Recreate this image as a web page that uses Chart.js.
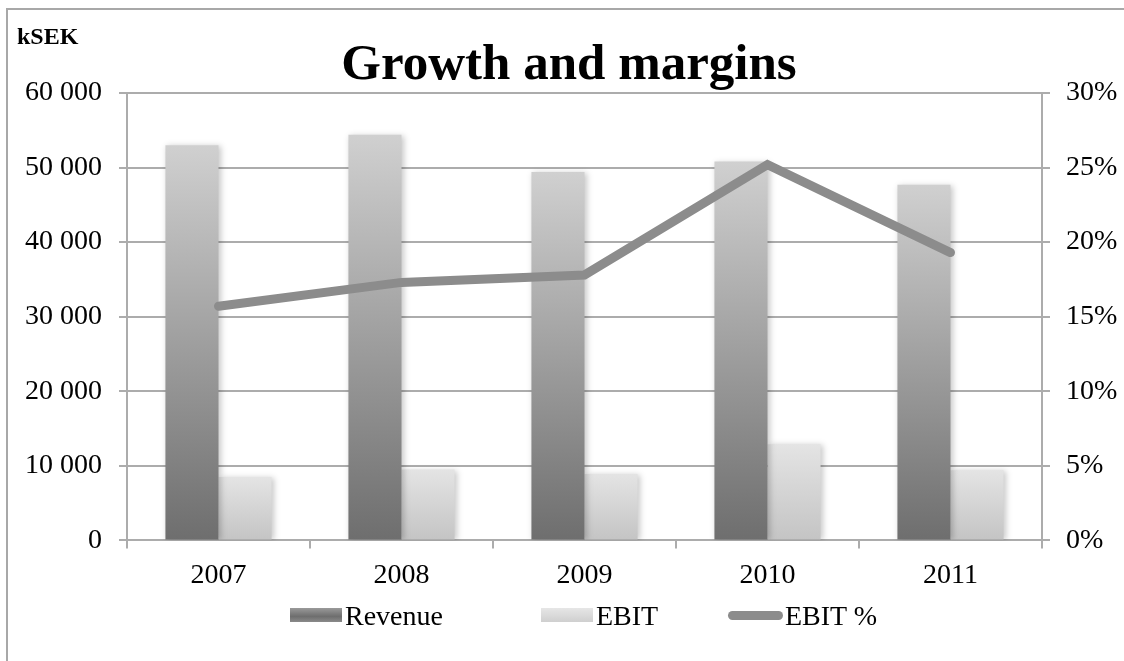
<!DOCTYPE html>
<html>
<head>
<meta charset="utf-8">
<script src="https://cdn.jsdelivr.net/npm/chart.js@4"></script>
<style>
  html, body { margin: 0; padding: 0; background: #fff; overflow: hidden; }
  #frame {
    position: absolute; left: 6px; top: 8px; width: 1200px; height: 700px;
    border-left: 2px solid #a8a8a8; border-top: 2px solid #a8a8a8;
  }
  #unit {
    position: absolute; left: 17px; top: 24px;
    font: bold 24px "Liberation Serif", serif; line-height: 24px; color: #000;
  }
  #wrap { position: absolute; left: 0; top: 0; width: 1124px; height: 661px; }
  .lg-text {
    position: absolute; top: 602px;
    font: 28px "Liberation Serif", serif; line-height: 28px; color: #000; white-space: nowrap;
  }
  .lg-box { position: absolute; }
</style>
</head>
<body>
<div id="frame"></div>
<div id="wrap"><canvas id="chart"></canvas></div>
<div id="unit">kSEK</div>
<div id="legend"></div>
<script>
// Data
const years = ['2007', '2008', '2009', '2010', '2011'];
const revenue = [53000, 54400, 49400, 50800, 47700];
const ebit = [8500, 9500, 8900, 12900, 9400];
const ebitPct = [15.7, 17.3, 17.8, 25.2, 19.3];
const seriesNames = ['Revenue', 'EBIT', 'EBIT %'];

const gridColor = '#acacac';
const serif = '"Liberation Serif", serif';

// vertical gradient for each bar, dark at the base and light at the top
function barGradient(dark, light) {
    return function (context) {
        const chart = context.chart;
        if (!chart.chartArea || context.type !== 'data') return dark;
        const y = chart.scales.y;
        const top = y.getPixelForValue(context.raw);
        const base = y.getPixelForValue(0);
        const g = chart.ctx.createLinearGradient(0, base, 0, top);
        g.addColorStop(0, dark);
        g.addColorStop(1, light);
        return g;
    };
}

// soft shadow behind the bars
const barShadow = {
    id: 'barShadow',
    beforeDatasetDraw(chart, args) {
        if (args.meta.type !== 'bar') return;
        const c = chart.ctx;
        c.save();
        c.shadowColor = 'rgba(0,0,0,0.22)';
        c.shadowBlur = 6;
        c.shadowOffsetX = 2;
        c.shadowOffsetY = 1;
    },
    afterDatasetDraw(chart, args) {
        if (args.meta.type !== 'bar') return;
        chart.ctx.restore();
    }
};

function spaced(v) {
    return String(v).replace(/\B(?=(\d{3})+(?!\d))/g, ' ');
}

Chart.defaults.color = '#000';
Chart.defaults.font.family = serif;
Chart.defaults.font.size = 28;

const ctx = document.getElementById('chart').getContext('2d');
const growthChart = new Chart(ctx, {
    type: 'bar',
    data: {
        labels: years,
        datasets: [
            {
                type: 'line',
                label: seriesNames[2],
                data: ebitPct,
                yAxisID: 'y1',
                borderColor: '#8c8c8c',
                borderWidth: 9,
                borderCapStyle: 'round',
                borderJoinStyle: 'miter',
                pointRadius: 0,
                tension: 0,
                fill: false,
                order: 0
            },
            {
                label: seriesNames[0],
                data: revenue,
                yAxisID: 'y',
                backgroundColor: barGradient('#6e6e6e', '#d0d0d0'),
                categoryPercentage: 0.58,
                barPercentage: 1,
                order: 1
            },
            {
                label: seriesNames[1],
                data: ebit,
                yAxisID: 'y',
                backgroundColor: barGradient('#c4c4c4', '#e4e4e4'),
                categoryPercentage: 0.58,
                barPercentage: 1,
                order: 1
            }
        ]
    },
    options: {
        responsive: true,
        maintainAspectRatio: false,
        animation: false,
        layout: { padding: { left: 14, top: 0, right: 0, bottom: 59 } },
        plugins: {
            title: {
                display: true,
                text: 'Growth and margins',
                font: { family: serif, size: 51, weight: 'bold', lineHeight: 1 },
                padding: { top: 40, bottom: 2 }
            },
            legend: { display: false },
            tooltip: { enabled: false }
        },
        scales: {
            x: {
                grid: { offset: true, drawOnChartArea: false, tickLength: 8, color: gridColor, lineWidth: 2 },
                border: { display: true, color: gridColor, width: 2 },
                ticks: { padding: 10, font: { family: serif, size: 28 } }
            },
            y: {
                position: 'left',
                min: 0,
                max: 60000,
                afterFit: scale => { scale.width = 113; },
                grid: { color: gridColor, lineWidth: 2, tickLength: 8 },
                border: { display: true, color: gridColor, width: 2 },
                ticks: { stepSize: 10000, padding: 17, callback: v => spaced(v), font: { family: serif, size: 28 } }
            },
            y1: {
                position: 'right',
                min: 0,
                max: 30,
                afterFit: scale => { scale.width = 82; },
                grid: { drawOnChartArea: false, color: gridColor, lineWidth: 2, tickLength: 8 },
                border: { display: true, color: gridColor, width: 2 },
                ticks: { stepSize: 5, padding: 16, callback: v => v + '%', font: { family: serif, size: 28 } }
            }
        }
    },
    plugins: [barShadow]
});

// Legend below the axis, laid out like the original
const legendItems = [
    { name: seriesNames[0], box: [290, 608, 52, 14, 0], bg: 'linear-gradient(#9a9a9a, #6e6e6e 60%, #8a8a8a)', text: 345 },
    { name: seriesNames[1], box: [541, 608, 52, 14, 0], bg: 'linear-gradient(#e6e6e6, #cfcfcf)', text: 596 },
    { name: seriesNames[2], box: [728, 611, 55, 9, 5], bg: '#8c8c8c', text: 785 }
];
const legendEl = document.getElementById('legend');
legendItems.forEach(item => {
    const b = document.createElement('div');
    b.className = 'lg-box';
    b.style.left = item.box[0] + 'px';
    b.style.top = item.box[1] + 'px';
    b.style.width = item.box[2] + 'px';
    b.style.height = item.box[3] + 'px';
    b.style.borderRadius = item.box[4] + 'px';
    b.style.background = item.bg;
    legendEl.appendChild(b);
    const t = document.createElement('div');
    t.className = 'lg-text';
    t.style.left = item.text + 'px';
    t.textContent = item.name;
    legendEl.appendChild(t);
});
</script>
</body>
</html>
